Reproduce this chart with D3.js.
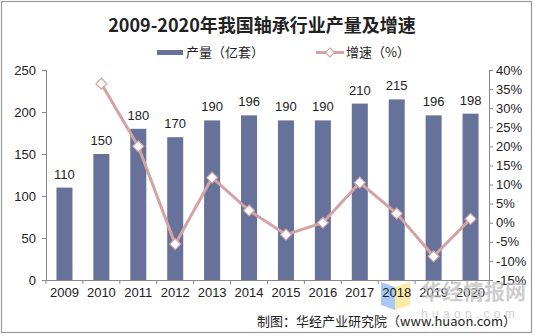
<!DOCTYPE html>
<html><head><meta charset="utf-8">
<script src="https://cdn.jsdelivr.net/npm/d3@7"></script>
<style>body{margin:0;background:#fff}svg{display:block}</style>
</head><body>
<svg id="c" width="535" height="336"></svg>
<script>
const years = ["2009","2010","2011","2012","2013","2014","2015","2016","2017","2018","2019","2020"];
const output = [110,150,180,170,190,196,190,190,210,215,196,198];
const growth = [null,36.4,20.0,-5.6,11.8,3.2,-3.1,0.0,10.5,2.4,-8.8,1.0];
const leftTicks = [0,50,100,150,200,250];
const rightTicks = [-15,-10,-5,0,5,10,15,20,25,30,35,40];

const svg = d3.select("#c");
const font = "'Liberation Sans', Arial, 'Noto Sans CJK SC', sans-serif";
const cjk = "'Noto Sans CJK SC', sans-serif";
const barColor = "#67729a", lineColor = "#d4a3a3", axisColor = "#8a8a8a";

svg.append("rect").attr("x",1.5).attr("y",1.5).attr("width",530).attr("height",331)
  .attr("fill","#fff").attr("stroke","#9a9a9a").attr("stroke-width",1.2);

const x = d3.scaleBand().domain(years).range([46,489]).paddingInner(0.566).paddingOuter(0.283);
const y = d3.scaleLinear().domain([0,250]).range([280,70]);
const y2 = d3.scaleLinear().domain([-15,40]).range([280,70]);

// watermark logo (decoration)
const wm = svg.append("g");
wm.append("path").attr("d","M381,282 L395,287 L395,310 L381,305 Z").attr("fill","#a9c8f5");
wm.append("path").attr("d","M395,287 L410,282 L410,305 L395,310 Z").attr("fill","#fbeaa3");

// bars
svg.append("g").selectAll("rect").data(years).join("rect")
  .attr("x",d=>x(d)).attr("width",x.bandwidth())
  .attr("y",(d,i)=>y(output[i])).attr("height",(d,i)=>y(0)-y(output[i]))
  .attr("fill",barColor);

// bar labels
svg.append("g").selectAll("text").data(years).join("text")
  .attr("x",d=>x(d)+x.bandwidth()/2).attr("y",(d,i)=>y(output[i])-9)
  .attr("text-anchor","middle").attr("font-family",font).attr("font-size",13).attr("fill","#222")
  .text((d,i)=>output[i]);

// axes
const axL = svg.append("g").attr("transform","translate(46,0)")
  .call(d3.axisLeft(y).tickValues(leftTicks).tickSize(4).tickPadding(6));
const axR = svg.append("g").attr("transform","translate(489,0)")
  .call(d3.axisRight(y2).tickValues(rightTicks).tickSize(4).tickPadding(3).tickFormat(d=>d+"%"));
const axB = svg.append("g").attr("transform","translate(0,280)")
  .call(d3.axisBottom(x).tickSize(0).tickPadding(8));
[axL,axR,axB].forEach(a=>{
  a.select(".domain").attr("stroke",axisColor);
  a.selectAll(".tick line").attr("stroke",axisColor);
  a.selectAll("text").attr("font-family",font).attr("font-size",13).attr("fill","#222");
});
// category separator ticks on x axis
const seps = years.map(d=>x(d)-x.step()*x.paddingInner()/2).concat([489]);
svg.append("g").selectAll("line").data(seps).join("line")
  .attr("x1",d=>d).attr("x2",d=>d).attr("y1",280).attr("y2",284).attr("stroke",axisColor);

// growth line
const pts = years.map((d,i)=>({d,v:growth[i]})).filter(p=>p.v!==null);
svg.append("path").datum(pts)
  .attr("d",d3.line().x(p=>x(p.d)+x.bandwidth()/2).y(p=>y2(p.v)))
  .attr("fill","none").attr("stroke",lineColor).attr("stroke-width",3);
svg.append("g").selectAll("path").data(pts).join("path")
  .attr("transform",p=>`translate(${x(p.d)+x.bandwidth()/2},${y2(p.v)})`)
  .attr("d","M0,-5.5 L5.5,0 L0,5.5 L-5.5,0 Z")
  .attr("fill","#fff").attr("stroke",lineColor).attr("stroke-width",1.2);

// watermark text
svg.append("text").attr("x",421).attr("y",299).attr("font-family",cjk).attr("font-weight","bold")
  .attr("font-size",21).attr("fill","#bdbdbd").attr("fill-opacity",0.75).text("华经情报网");
svg.append("text").attr("x",421).attr("y",318).attr("font-family",font)
  .attr("font-size",12).attr("letter-spacing",4.3).attr("fill","#cfcfcf").text("huaon.com");

// title
svg.append("text").attr("x",262).attr("y",32).attr("text-anchor","middle")
  .attr("font-family","'Noto Sans CJK SC', sans-serif").attr("font-weight","bold").attr("font-size",18)
  .attr("fill","#222").text("2009-2020年我国轴承行业产量及增速");

// legend
svg.append("rect").attr("x",157).attr("y",50).attr("width",26).attr("height",5).attr("fill",barColor);
svg.append("text").attr("x",186).attr("y",57).attr("font-family",cjk).attr("font-size",13).attr("fill","#222").text("产量（亿套）");
svg.append("line").attr("x1",316).attr("x2",344).attr("y1",52.5).attr("y2",52.5).attr("stroke",lineColor).attr("stroke-width",3);
svg.append("path").attr("transform","translate(330,52.5)").attr("d","M0,-4.5 L4.5,0 L0,4.5 L-4.5,0 Z")
  .attr("fill","#fff").attr("stroke",lineColor).attr("stroke-width",1.2);
svg.append("text").attr("x",346).attr("y",57).attr("font-family",cjk).attr("font-size",13).attr("fill","#222").text("增速（%）");

// source
svg.append("text").attr("x",516).attr("y",326).attr("text-anchor","end")
  .attr("font-family",cjk).attr("font-size",13).attr("fill","#222").text("制图：华经产业研究院（www.huaon.com）");
</script>
</body></html>
